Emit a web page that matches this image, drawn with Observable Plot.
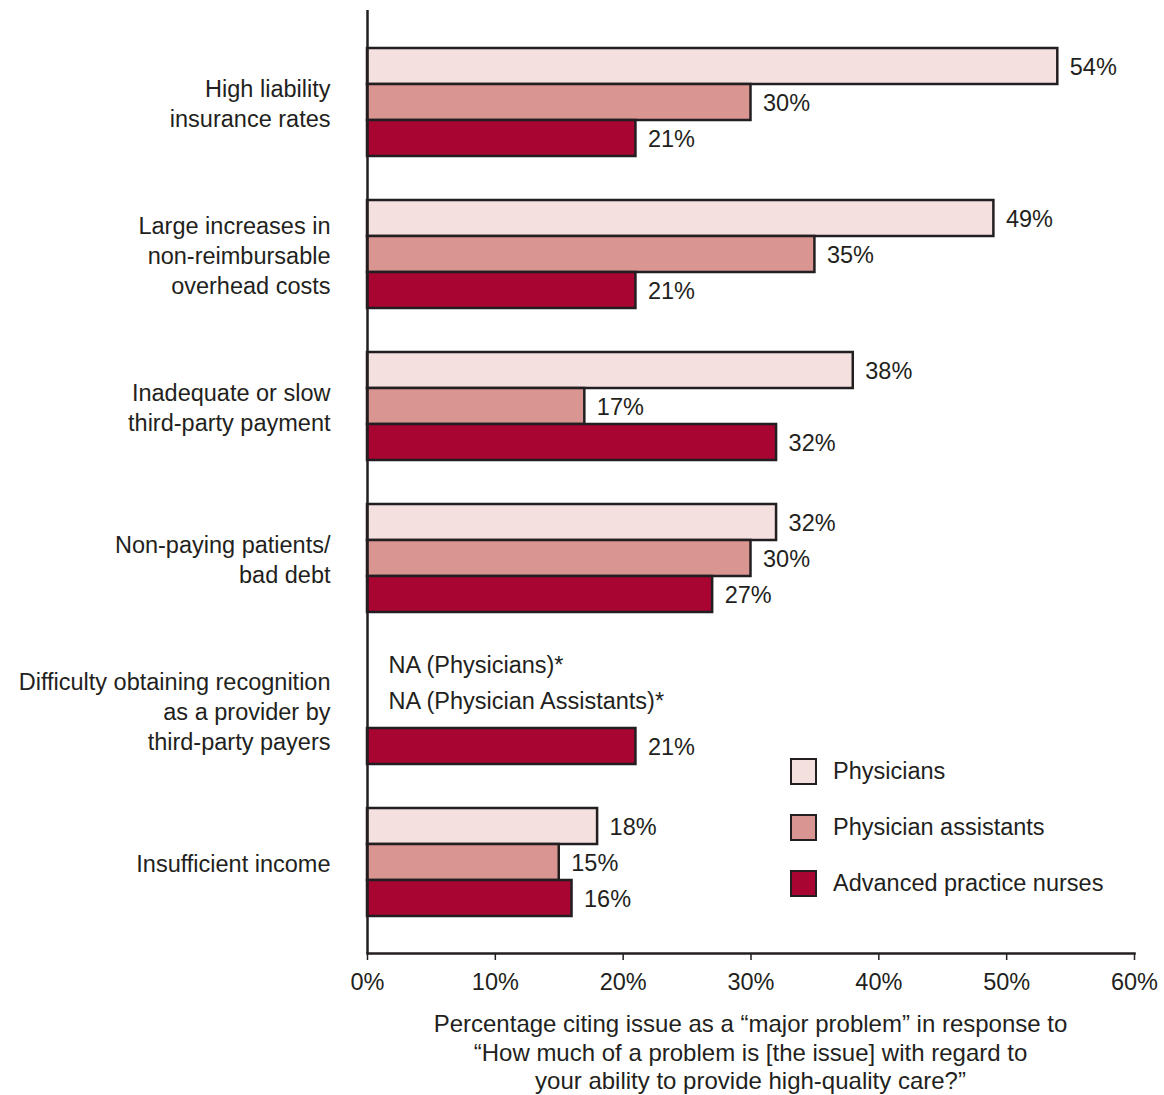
<!DOCTYPE html>
<html>
<head>
<meta charset="utf-8">
<script src="https://cdn.jsdelivr.net/npm/d3@7"></script>
<script src="https://cdn.jsdelivr.net/npm/@observablehq/plot@0.6"></script>
<style>
  html, body { margin: 0; padding: 0; background: #fff; }
  body { width: 1164px; height: 1095px; position: relative; font-family: "Liberation Sans", Arial, Helvetica, sans-serif; color: #231f20; }
  #chart svg { display: block; }
  #caption { position: absolute; left: 317px; width: 867px; top: 1010px; text-align: center; font-size: 24px; line-height: 28.5px; }
  #legend { position: absolute; left: 790px; top: 758px; font-size: 23.5px; }
  .item { position: relative; height: 27px; margin-bottom: 29px; }
  .sw { position: absolute; left: 0; top: 0; width: 23px; height: 23px; border: 2.5px solid #231f20; }
  .lab { position: absolute; left: 43px; top: 0; line-height: 27px; white-space: nowrap; }
</style>
</head>
<body>
<div id="chart"></div>
<div id="legend"></div>
<div id="caption">Percentage citing issue as a “major problem” in response to<br>“How much of a problem is [the issue] with regard to<br>your ability to provide high-quality care?”</div>
<script>
const categories = [
  "High liability\ninsurance rates",
  "Large increases in\nnon-reimbursable\noverhead costs",
  "Inadequate or slow\nthird-party payment",
  "Non-paying patients/\nbad debt",
  "Difficulty obtaining recognition\nas a provider by\nthird-party payers",
  "Insufficient income"
];
const seriesNames = ["Physicians", "Physician assistants", "Advanced practice nurses"];
const physicians = [54, 49, 38, 32, null, 18];
const assistants = [30, 35, 17, 30, null, 15];
const nurses     = [21, 21, 32, 27, 21, 16];
const colors = ["#f5e0e0", "#d99592", "#a80533"];
const xTicks = [0, 10, 20, 30, 40, 50, 60];
const naLabels = [
  {category: categories[4], series: "Physicians", text: "NA (Physicians)*"},
  {category: categories[4], series: "Physician assistants", text: "NA (Physician Assistants)*"}
];

const seriesValues = [physicians, assistants, nurses];
const rows = [];
seriesNames.forEach((s, si) => {
  categories.forEach((c, ci) => {
    const v = seriesValues[si][ci];
    if (v != null) rows.push({category: c, series: s, value: v});
  });
});

const ink = "#231f20";
const font = "'Liberation Sans', Arial, Helvetica, sans-serif";
const barH = 36;

const marks = [];
seriesNames.forEach((s, si) => {
  const data = rows.filter(d => d.series === s);
  marks.push(Plot.barX(data, {
    x: "value", y: "category", fill: colors[si], stroke: ink, strokeWidth: 2.5,
    insetTop: si * barH, insetBottom: (2 - si) * barH
  }));
  marks.push(Plot.text(data, {
    x: "value", y: "category", text: d => d.value + "%", dx: 12, dy: (si - 1) * barH + 1,
    textAnchor: "start", fontSize: 23.5, fill: ink, fontFamily: font
  }));
});
naLabels.forEach(d => {
  const si = seriesNames.indexOf(d.series);
  marks.push(Plot.text([d], {
    x: () => 0, y: "category", text: "text", dx: 21, dy: (si - 1) * barH - 9,
    textAnchor: "start", fontSize: 23.5, fill: ink, fontFamily: font
  }));
});

const chart = Plot.plot({
  width: 1164,
  height: 1000,
  marginLeft: 367,
  marginRight: 30,
  marginTop: 10,
  marginBottom: 47,
  style: {fontFamily: font, color: ink, background: "#fff"},
  x: {domain: [0, 60], axis: null},
  y: {domain: categories, paddingInner: 0.292, paddingOuter: 0.236, axis: null},
  marks: [
    ...marks,
    Plot.axisY({tickSize: 0, tickPadding: 37, fontSize: 23.5, lineHeight: 1.26, textAnchor: "end", label: null, fill: ink}),
    Plot.axisX({ticks: xTicks, tickFormat: d => d + "%", tickSize: 7, tickPadding: 13, fontSize: 23.5, label: null, stroke: ink, strokeWidth: 1.5, fill: ink}),
    Plot.ruleX([0], {stroke: ink, strokeWidth: 2.5}),
    Plot.frame({anchor: "bottom", stroke: ink, strokeWidth: 2.5})
  ]
});
document.getElementById("chart").appendChild(chart);

const legend = document.getElementById("legend");
seriesNames.forEach((s, si) => {
  const item = document.createElement("div");
  item.className = "item";
  const sw = document.createElement("div");
  sw.className = "sw";
  sw.style.background = colors[si];
  const lab = document.createElement("div");
  lab.className = "lab";
  lab.textContent = s;
  item.appendChild(sw);
  item.appendChild(lab);
  legend.appendChild(item);
});
</script>
</body>
</html>
